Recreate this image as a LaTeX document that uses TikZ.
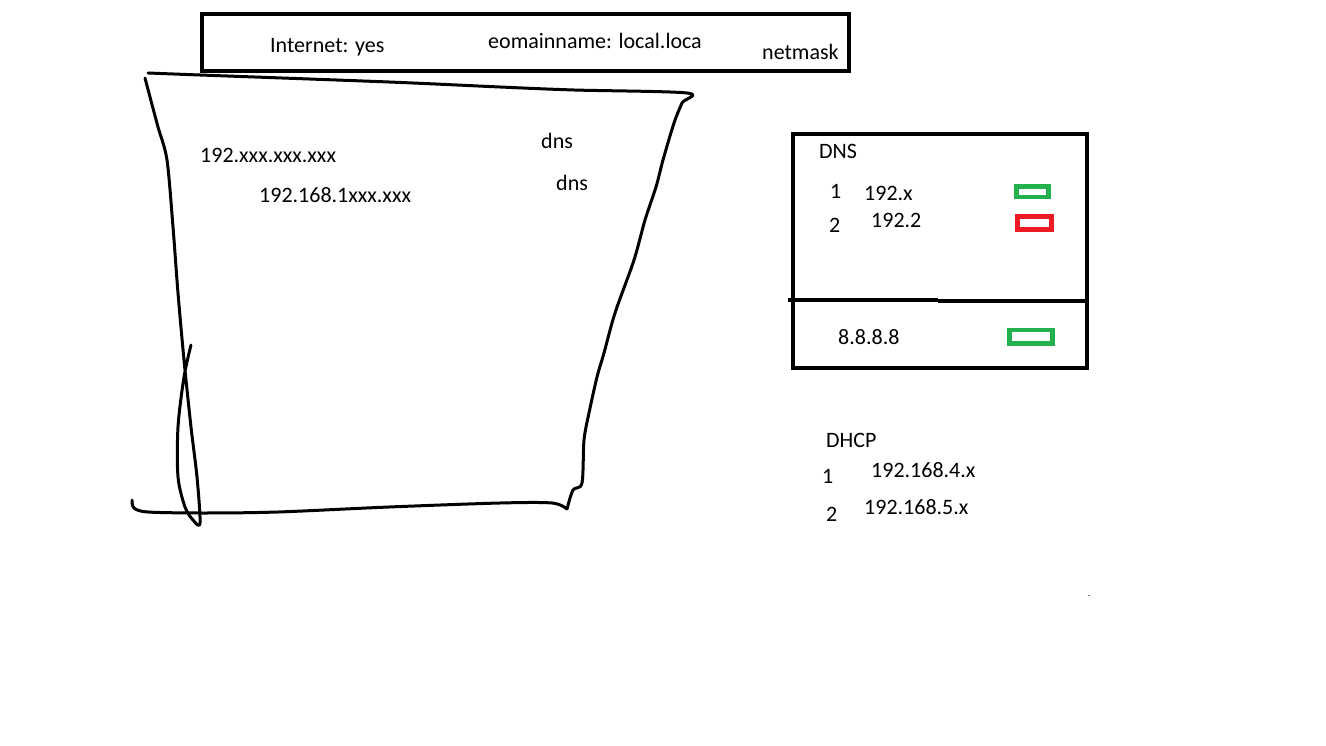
\documentclass[tikz,border=0pt]{standalone}
\usepackage{fontspec}
\setmainfont{Carlito}
\definecolor{okgreen}{HTML}{22B14C}
\definecolor{badred}{HTML}{ED1C24}
\begin{document}
\begin{tikzpicture}[x=1pt,y=-1pt,
  lbl/.style={inner sep=0pt,anchor=base west,font=\fontsize{22}{26}\selectfont},
  frame/.style={draw=black,line width=4.3pt},
  sketch/.style={draw=black,line width=3pt,line cap=round,line join=round},
  okbox/.style={draw=okgreen,line width=4.8pt},
  badbox/.style={draw=badred,line width=4.8pt}]
\useasboundingbox[fill=white] (0,0) rectangle (1326,746);

% settings bar
\draw[frame] (202,14) rectangle (849,71);
\node[lbl] (inet) at (270,53) {Internet: yes};
\node[lbl] (dom) at (488,49) {eomainname: local.loca};
\node[lbl] (mask) at (762,60) {netmask};

% hand-drawn area
\draw[sketch] plot[smooth,tension=0.5] coordinates {
  (148,73) (200,75) (389,82) (500,87) (574,90) (687,93)
  (682,103) (674,123) (663,160) (656,187) (645,220) (634,260)
  (615,313) (604,353) (597,377) (589,413) (584,440) (582,483)
  (573,490) (567,509)};
\draw[sketch] plot[smooth,tension=0.5] coordinates {
  (567,509) (552,503) (500,503) (389,507) (278,512) (204,513)
  (148,512) (134,508) (132,500)};
\draw[sketch] plot[smooth,tension=0.5] coordinates {
  (145,78) (150,97) (158,127) (167,160) (173,227) (178,293)
  (184,360) (191,427) (197,477) (200,523) (193,520) (185,507)
  (178,477) (178,427) (184,377) (191,345)};
\node[lbl] (ipa) at (200,163) {192.xxx.xxx.xxx};
\node[lbl] (ipb) at (259,203) {192.168.1xxx.xxx};
\node[lbl] (dnsa) at (541,149) {dns};
\node[lbl] (dnsb) at (556,191) {dns};

% DNS panel
\draw[frame] (793,134) rectangle (1087,368);
\draw[frame] (788,300) -- (938,300);
\draw[frame] (938,301) -- (1087,301);
\node[lbl] (dnshead) at (819,159) {DNS};
\node[lbl] (n1) at (830,199) {1};
\node[lbl] (ip1) at (864,201) {192.x};
\node[lbl] (n2) at (829,233) {2};
\node[lbl] (ip2) at (871,228) {192.2};
\draw[okbox] (1016.5,186.5) rectangle (1048.5,197);
\draw[badbox] (1017.5,216.5) rectangle (1051.5,229.2);
\node[lbl] (ip3) at (838,344) {8.8.8.8};
\draw[okbox] (1009.5,330) rectangle (1052.5,343.5);

% DHCP list
\node[lbl] (dhcphead) at (826,447) {DHCP};
\node[lbl] (d1) at (822,483) {1};
\node[lbl] (pool1) at (871,477) {192.168.4.x};
\node[lbl] (d2) at (826,521) {2};
\node[lbl] (pool2) at (864,514) {192.168.5.x};
\fill[black] (1089,595.5) circle (0.6pt);
\end{tikzpicture}
\end{document}
